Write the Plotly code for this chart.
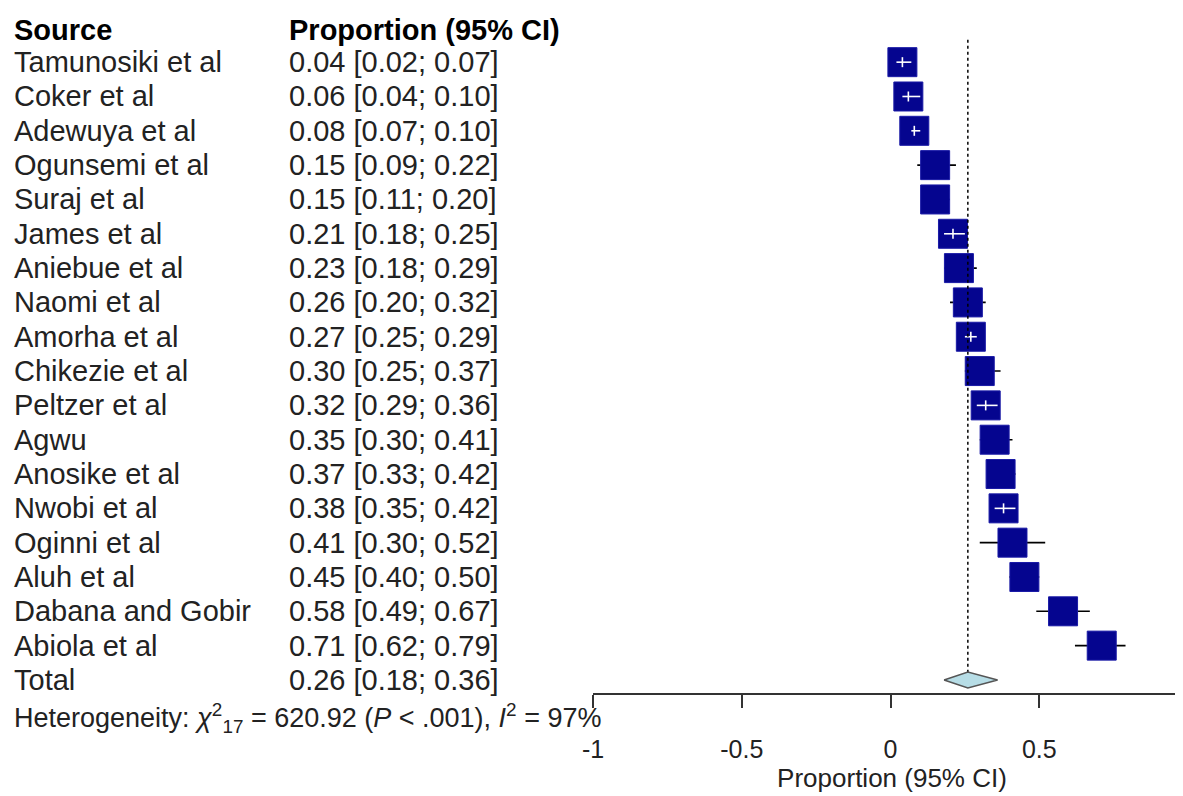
import plotly.graph_objects as go

studies = ["Tamunosiki et al", "Coker et al", "Adewuya et al", "Ogunsemi et al", "Suraj et al",
           "James et al", "Aniebue et al", "Naomi et al", "Amorha et al", "Chikezie et al",
           "Peltzer et al", "Agwu", "Anosike et al", "Nwobi et al", "Oginni et al", "Aluh et al",
           "Dabana and Gobir", "Abiola et al"]
prop = [0.04, 0.06, 0.08, 0.15, 0.15, 0.21, 0.23, 0.26, 0.27, 0.30, 0.32, 0.35, 0.37, 0.38, 0.41, 0.45, 0.58, 0.71]
lower = [0.02, 0.04, 0.07, 0.09, 0.11, 0.18, 0.18, 0.20, 0.25, 0.25, 0.29, 0.30, 0.33, 0.35, 0.30, 0.40, 0.49, 0.62]
upper = [0.07, 0.10, 0.10, 0.22, 0.20, 0.25, 0.29, 0.32, 0.29, 0.37, 0.36, 0.41, 0.42, 0.42, 0.52, 0.50, 0.67, 0.79]
total_label = "Total"
total_est, total_lo, total_hi = 0.26, 0.18, 0.36
x_ticks = [-1, -0.5, 0, 0.5, 1]
x_tick_text = ["-1", "-0.5", "0", "0.5", "1"]

FONT = "Liberation Sans, Arial, sans-serif"
TXT = "#222222"
OFF = 8  # page body margin
W, H = 1183, 796
PX_PER_UNIT = 297.5
PLOT_L = 593 - OFF
PLOT_R = W
PLOT_T = 10 - OFF
PLOT_B = 693 - OFF
ML, MR, MT, MB = PLOT_L, W - PLOT_R, PLOT_T, H - PLOT_B
XR = [-1, -1 + (PLOT_R - PLOT_L) / PX_PER_UNIT]
n = len(studies)
YR = [n + 0.38, -1.52]

px_per_row = (PLOT_B - PLOT_T) / (YR[0] - YR[1])
SQ = 29
hw = (SQ / 2) / PX_PER_UNIT

ys = list(range(n))
y_total = n

fig = go.Figure()

bx, by = [], []
for i in range(n):
    bx += [lower[i], upper[i], None]
    by += [ys[i], ys[i], None]
fig.add_trace(go.Scatter(x=bx, y=by, mode="lines", line=dict(color="black", width=1.6),
                         hoverinfo="skip", showlegend=False))

fig.add_trace(go.Scatter(x=prop, y=ys, mode="markers",
                         marker=dict(symbol="square", size=SQ, color="#05058f",
                                     line=dict(color="#1a1aa6", width=1)),
                         showlegend=False, hoverinfo="skip"))

wx, wy = [], []
tick_h = 5 / px_per_row
for i in range(n):
    if prop[i] - lower[i] <= hw and upper[i] - prop[i] <= hw:
        wx += [lower[i], upper[i], None, prop[i], prop[i], None]
        wy += [ys[i], ys[i], None, ys[i] - tick_h, ys[i] + tick_h, None]
fig.add_trace(go.Scatter(x=wx, y=wy, mode="lines", line=dict(color="white", width=1.6),
                         hoverinfo="skip", showlegend=False))

fig.add_trace(go.Scatter(x=[total_est, total_est], y=[-0.65, y_total], mode="lines",
                         line=dict(color="black", width=1.5, dash="dot"),
                         hoverinfo="skip", showlegend=False))

dh = 8 / px_per_row
fig.add_trace(go.Scatter(x=[total_lo, total_est, total_hi, total_est, total_lo],
                         y=[y_total, y_total - dh, y_total, y_total + dh, y_total],
                         mode="lines", fill="toself", fillcolor="#b7dde6",
                         line=dict(color="#555555", width=1.5),
                         hoverinfo="skip", showlegend=False))


def paper_x(screen_px):
    return (screen_px - OFF - PLOT_L) / (PLOT_R - PLOT_L)


def paper_y(screen_py):
    return (PLOT_B - (screen_py - OFF)) / (PLOT_B - PLOT_T)


FS = 29
ann = []
ann.append(dict(x=paper_x(12), y=-0.93, xref="paper", yref="y", text="<b>Source</b>",
                xanchor="left", yanchor="middle", showarrow=False, font=dict(size=FS, color="black")))
ann.append(dict(x=paper_x(287), y=-0.93, xref="paper", yref="y", text="<b>Proportion (95% CI)</b>",
                xanchor="left", yanchor="middle", showarrow=False, font=dict(size=FS, color="black")))
labels = studies + [total_label]
ests = prop + [total_est]
los = lower + [total_lo]
his = upper + [total_hi]
for i, lab in enumerate(labels):
    ann.append(dict(x=paper_x(12), y=i, xref="paper", yref="y", text=lab,
                    xanchor="left", yanchor="middle", showarrow=False,
                    font=dict(size=FS, color=TXT)))
    ann.append(dict(x=paper_x(287), y=i, xref="paper", yref="y",
                    text=f"{ests[i]:.2f} [{los[i]:.2f}; {his[i]:.2f}]",
                    xanchor="left", yanchor="middle", showarrow=False,
                    font=dict(size=FS, color=TXT)))

ann.append(dict(x=paper_x(12), y=paper_y(718), xref="paper", yref="paper",
                text="Heterogeneity: <i>χ</i><sup>2</sup><sub>17</sub> = 620.92 (<i>P</i> < .001), <i>I</i><sup>2</sup> = 97%",
                xanchor="left", yanchor="middle", showarrow=False, font=dict(size=27, color=TXT)))

fig.update_layout(
    width=W, height=H,
    margin=dict(l=ML, r=MR, t=MT, b=MB),
    paper_bgcolor="white", plot_bgcolor="white",
    font=dict(family=FONT, color=TXT),
    annotations=ann,
    xaxis=dict(range=XR, tickvals=x_ticks, ticktext=x_tick_text, showgrid=False, zeroline=False,
               showline=True, linecolor="#333333", linewidth=1.5,
               ticks="outside", ticklen=13, tickwidth=1.5, tickcolor="#333333",
               tickfont=dict(size=25, color=TXT), ticklabelstandoff=20,
               title=dict(text="Proportion (95% CI)", font=dict(size=26, color=TXT), standoff=4)),
    yaxis=dict(range=YR, visible=False, showgrid=False, zeroline=False),
)

fig.write_html("out.html")
